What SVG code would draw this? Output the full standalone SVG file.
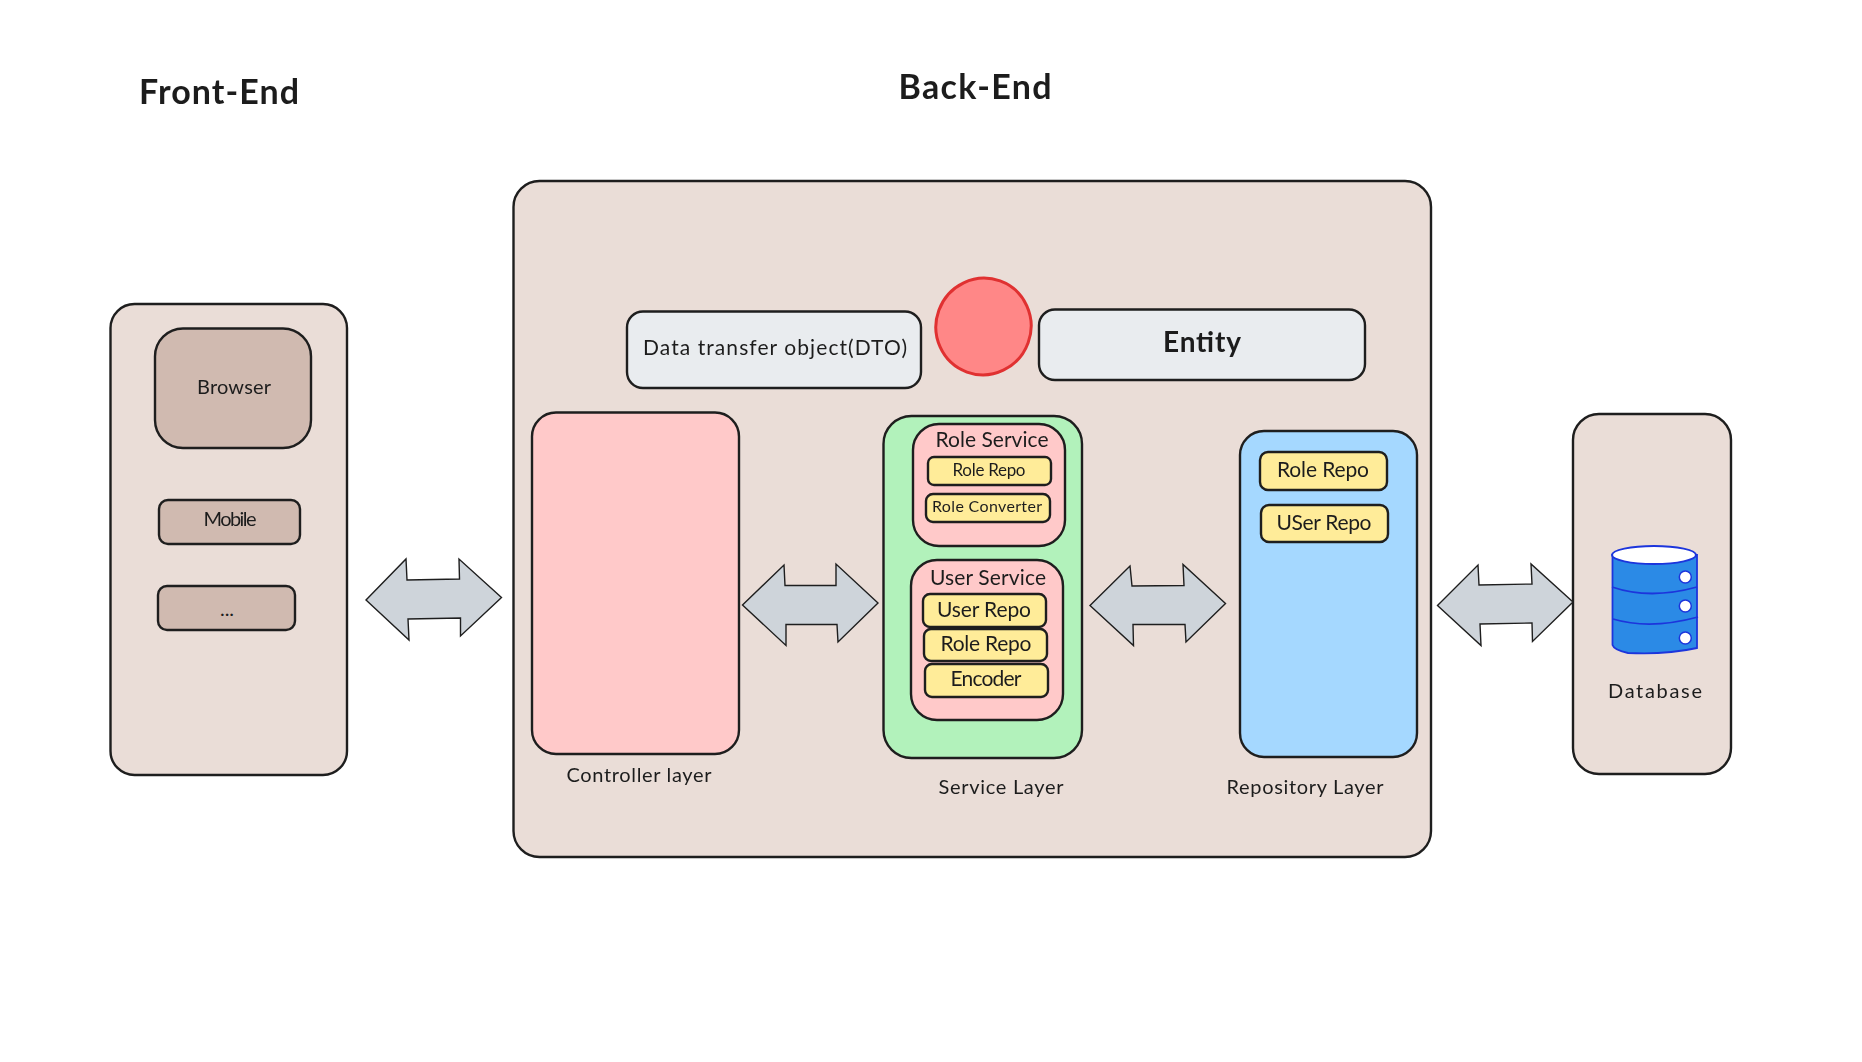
<svg xmlns="http://www.w3.org/2000/svg" width="1862" height="1062" viewBox="0 0 1862 1062">
<style>
text{font-family:"Lato","Noto Sans",sans-serif;fill:#1e1e1e;text-anchor:middle;dominant-baseline:central}
rect{stroke:#1e1e1e;stroke-width:2.4}
.bg{fill:#eaddd7}.br{fill:#d0bab0}.gy{fill:#e9ecef}.pk{fill:#ffc9c9}.ye{fill:#ffec99}
.ar{fill:#ced4da;stroke:#1e1e1e;stroke-width:1.4;stroke-linejoin:miter}
.db{stroke:#1c35dc;stroke-width:1.8;fill:none}
</style>
<defs>
<filter id="hand" x="-5%" y="-15%" width="110%" height="130%">
<feTurbulence type="fractalNoise" baseFrequency="0.05" numOctaves="1" seed="7"/>
<feDisplacementMap in="SourceGraphic" scale="1.6"/>
</filter>
</defs>
<rect width="1862" height="1062" fill="#ffffff" style="stroke:none"/>
<g id="title-front"><text x="219" y="90" font-size="34" font-weight="700" textLength="160" filter="url(#hand)">Front-End</text></g>
<g id="title-back"><text x="975" y="85" font-size="34" font-weight="700" textLength="153" filter="url(#hand)">Back-End</text></g>

<g id="front-end"><rect class="bg" x="110.500" y="304" width="236.500" height="471" rx="24"/></g>
<g id="browser"><rect class="br" x="155" y="328.500" width="156" height="119.500" rx="28"/><text x="234" y="386" font-size="20" textLength="74" filter="url(#hand)">Browser</text></g>
<g id="mobile"><rect class="br" x="159" y="500" width="141" height="44" rx="9"/><text x="230" y="518" font-size="20" textLength="53" filter="url(#hand)">Mobile</text></g>
<g id="more"><rect class="br" x="158" y="586" width="137" height="44" rx="9"/><text x="227" y="608" font-size="20" textLength="14">...</text></g>

<g id="back-end"><rect class="bg" x="513.500" y="181" width="917.500" height="676" rx="26"/></g>
<g id="dto"><rect class="gy" x="627" y="311.500" width="294" height="76.500" rx="16"/><text x="775" y="346" font-size="21" textLength="264" filter="url(#hand)">Data transfer object(DTO)</text></g>
<g id="circle"><ellipse cx="983.500" cy="326.500" rx="47.500" ry="48.500" fill="#ff8787" stroke="#e03131" stroke-width="3" transform="rotate(20 983.500 326.500)"/></g>
<g id="entity"><rect class="gy" x="1039" y="309.500" width="326" height="70.500" rx="16"/><text x="1202" y="341" font-size="28" font-weight="700" textLength="78" filter="url(#hand)">Entity</text></g>

<g id="controller"><rect class="pk" x="532" y="412.500" width="207" height="341.500" rx="24"/></g>
<g id="controller-label"><text x="639" y="774" font-size="20" textLength="145" filter="url(#hand)">Controller layer</text></g>

<g id="service-layer"><rect fill="#b2f2bb" x="883.500" y="416" width="198.500" height="342" rx="28"/></g>
<g id="role-service"><rect class="pk" x="913" y="424" width="152" height="122" rx="26"/><text x="992" y="438" font-size="21" textLength="113" filter="url(#hand)">Role Service</text></g>
<g id="role-service-repo"><rect class="ye" x="928" y="457" width="123" height="28" rx="6"/><text x="989" y="469" font-size="17" textLength="73" filter="url(#hand)">Role Repo</text></g>
<g id="role-converter"><rect class="ye" x="926" y="494" width="124" height="28" rx="7"/><text x="987" y="505" font-size="16" textLength="110" filter="url(#hand)">Role Converter</text></g>
<g id="user-service"><rect class="pk" x="911" y="560" width="152" height="160" rx="26"/><text x="988" y="576" font-size="21" textLength="116" filter="url(#hand)">User Service</text></g>
<g id="user-service-user-repo"><rect class="ye" x="923" y="594" width="123" height="33" rx="7"/><text x="984" y="608" font-size="21" textLength="94" filter="url(#hand)">User Repo</text></g>
<g id="user-service-role-repo"><rect class="ye" x="924" y="629" width="123" height="32" rx="7"/><text x="986" y="642" font-size="21" textLength="91" filter="url(#hand)">Role Repo</text></g>
<g id="encoder"><rect class="ye" x="925" y="664" width="123" height="33" rx="7"/><text x="986" y="677" font-size="21" textLength="71" filter="url(#hand)">Encoder</text></g>
<g id="service-label"><text x="1001" y="786" font-size="20" textLength="125" filter="url(#hand)">Service Layer</text></g>

<g id="repository-layer"><rect fill="#a5d8ff" x="1240" y="431" width="177" height="326" rx="24"/></g>
<g id="repo-role"><rect class="ye" x="1260" y="452" width="127" height="38" rx="8"/><text x="1323" y="468" font-size="21" textLength="92" filter="url(#hand)">Role Repo</text></g>
<g id="repo-user"><rect class="ye" x="1261" y="505" width="127" height="37" rx="8"/><text x="1324" y="521" font-size="21" textLength="95" filter="url(#hand)">USer Repo</text></g>
<g id="repository-label"><text x="1305" y="786" font-size="20" textLength="157" filter="url(#hand)">Repository Layer</text></g>

<g id="database-box"><rect class="bg" x="1573" y="414" width="158" height="360" rx="26"/></g>
<g id="database">
<path d="M1612.500 555V645Q1614 650 1628 653Q1665 655 1697 648V555Z" fill="#2b8ae6" stroke="#1c35dc" stroke-width="1.800"/>
<ellipse cx="1654" cy="555" rx="42" ry="9" fill="#ffffff" stroke="#1c35dc" stroke-width="2"/>
<path class="db" d="M1612 587Q1650 600 1697 587M1613 619Q1650 630 1698 617"/>
<circle cx="1685.300" cy="577" r="6" fill="#ffffff" stroke="#1c35dc" stroke-width="1.500"/>
<circle cx="1685.300" cy="606" r="6" fill="#ffffff" stroke="#1c35dc" stroke-width="1.500"/>
<circle cx="1685.300" cy="638" r="6" fill="#ffffff" stroke="#1c35dc" stroke-width="1.500"/>
<text x="1655" y="690" font-size="20" textLength="94" filter="url(#hand)">Database</text>
</g>

<g id="connectors">
<polygon class="ar" points="366,600 406,559 407,580 459.500,579 459,559 501.500,597.500 460.500,636 460.500,618 408,619 409,640"/>
<polygon class="ar" points="742.500,605 784,565 785,585.500 836,585.500 836,564 878,603 838,642 837,624.500 786,624.500 786,645.500"/>
<polygon class="ar" points="1090,605.500 1130,566 1132,586 1184,585.500 1183,564.500 1225.500,603.500 1186,642 1185,624.500 1133,624.500 1133.500,645.500"/>
<polygon class="ar" points="1437.500,605.500 1478,565 1479,585 1532,584 1531,564 1573,602 1532.500,641.500 1532,623 1480,624 1481,645.500"/>
</g>
</svg>
